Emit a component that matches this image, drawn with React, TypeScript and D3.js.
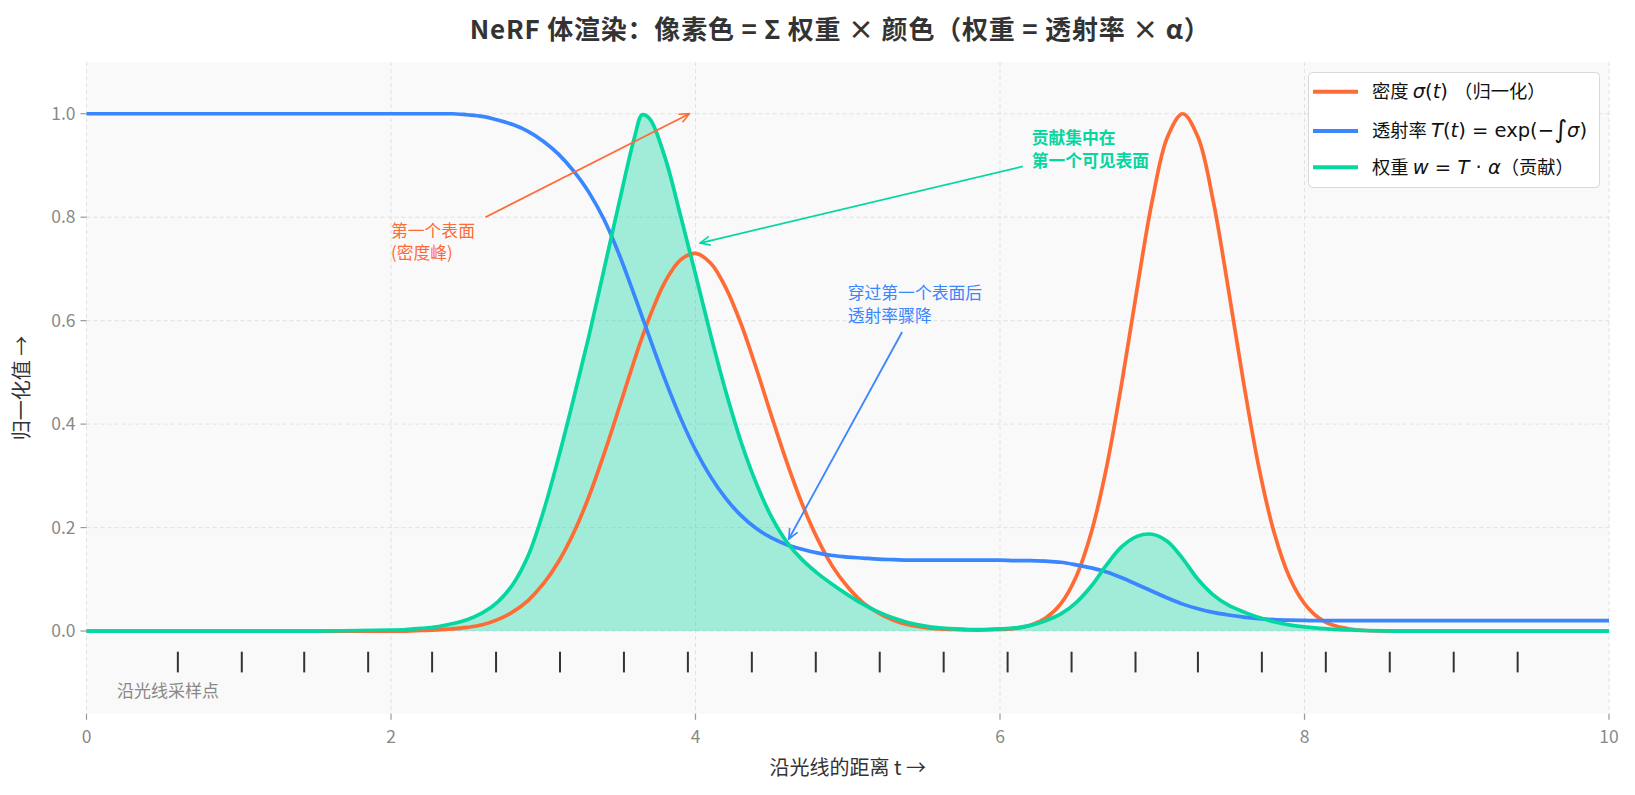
import * as d3 from "d3";

// distance along the ray (shared sample grid for the three curves)
const tGrid = [
  0, 0.5, 1.0, 1.5, 2.0, 2.1, 2.2, 2.3, 2.4, 2.5, 2.6, 2.7, 2.8, 2.9, 3.0, 3.1, 3.2, 3.3, 3.4, 3.5, 3.6, 3.65,
  3.7, 3.8, 3.9, 4.0, 4.1, 4.2, 4.3, 4.4, 4.5, 4.6, 4.7, 4.8, 4.9, 5.0, 5.1, 5.2, 5.3, 5.4, 5.5, 5.6, 5.7,
  5.8, 5.9, 6.0, 6.1, 6.2, 6.3, 6.4, 6.5, 6.6, 6.7, 6.8, 6.9, 7.0, 7.1, 7.2, 7.3, 7.4, 7.5, 7.6, 7.7, 7.8,
  7.9, 8.0, 8.1, 8.2, 8.3, 8.4, 8.6, 8.8, 9.0, 9.5, 10.0,
];

// density sigma(t), normalised
const density = [
  0, 0, 0, 0, 0, 0, 0.001, 0.002, 0.004, 0.007, 0.012, 0.022, 0.037, 0.059, 0.091, 0.134, 0.19, 0.26, 0.343,
  0.433, 0.525, 0.568, 0.608, 0.675, 0.717, 0.73, 0.711, 0.663, 0.593, 0.507, 0.415, 0.326, 0.246, 0.179,
  0.125, 0.085, 0.055, 0.035, 0.021, 0.012, 0.007, 0.004, 0.003, 0.002, 0.002, 0.003, 0.005, 0.011, 0.025,
  0.053, 0.105, 0.191, 0.317, 0.48, 0.661, 0.832, 0.955, 1.0, 0.955, 0.832, 0.661, 0.48, 0.317, 0.191, 0.105,
  0.053, 0.024, 0.01, 0.004, 0.001, 0, 0, 0, 0, 0,
];

// transmittance T(t)
const transmittance = [
  1, 1, 1, 1, 1, 1, 1, 1, 1, 0.998, 0.995, 0.988, 0.979, 0.966, 0.947, 0.922, 0.889, 0.848, 0.795, 0.727,
  0.648, 0.607, 0.566, 0.486, 0.413, 0.35, 0.298, 0.256, 0.223, 0.198, 0.18, 0.167, 0.158, 0.151, 0.146, 0.143,
  0.141, 0.139, 0.138, 0.137, 0.137, 0.137, 0.137, 0.137, 0.137, 0.137, 0.136, 0.136, 0.135, 0.133, 0.128,
  0.122, 0.114, 0.103, 0.09, 0.077, 0.064, 0.052, 0.043, 0.036, 0.031, 0.027, 0.024, 0.022, 0.021, 0.0205,
  0.02, 0.02, 0.02, 0.02, 0.02, 0.02, 0.02, 0.02, 0.02,
];

// weight w = T * alpha, normalised
const weight = [
  0, 0, 0, 0, 0.002, 0.003, 0.005, 0.008, 0.014, 0.022, 0.035, 0.056, 0.09, 0.145, 0.23, 0.335, 0.45, 0.57,
  0.7, 0.83, 0.955, 0.998, 0.99, 0.915, 0.805, 0.69, 0.572, 0.462, 0.365, 0.285, 0.22, 0.172, 0.138, 0.112,
  0.09, 0.07, 0.052, 0.037, 0.025, 0.016, 0.01, 0.006, 0.004, 0.003, 0.003, 0.004, 0.006, 0.011, 0.02,
  0.033, 0.055, 0.087, 0.128, 0.163, 0.183, 0.187, 0.173, 0.14, 0.1, 0.07, 0.05, 0.037, 0.026, 0.018,
  0.012, 0.008, 0.005, 0.003, 0.002, 0.001, 0, 0, 0, 0, 0,
];

const samplePoints = [
  0.6, 1.02, 1.43, 1.85, 2.27, 2.69, 3.11, 3.53, 3.95, 4.37, 4.79, 5.21, 5.63, 6.05, 6.47, 6.89, 7.3, 7.72,
  8.14, 8.56, 8.98, 9.4,
];

const xTicks = [0, 2, 4, 6, 8, 10];
const yTicks = [0, 0.2, 0.4, 0.6, 0.8, 1.0];

const ORANGE = "#ff6b35";
const BLUE = "#3a86ff";
const GREEN = "#06d6a0";
const FONT = "'Noto Sans CJK SC', 'Noto Sans', sans-serif";
const MATH = "'DejaVu Sans', sans-serif";

export default function App() {
  const x = d3.scaleLinear().domain([0, 10]).range([86.5, 1609]);
  const y = d3.scaleLinear().domain([-0.16, 1.1]).range([713.8, 62]);
  const smooth = d3.curveCatmullRom.alpha(0.5);

  const mkLine = (vals: number[], curve: d3.CurveFactory = smooth) =>
    d3
      .line<number>()
      .x((_, i) => x(tGrid[i]))
      .y((d) => y(d))
      .curve(curve)(vals) || "";

  const fill =
    d3
      .area<number>()
      .x((_, i) => x(tGrid[i]))
      .y0(y(0))
      .y1((d) => y(d))
      .curve(smooth)(weight) || "";

  const [x0, x1] = x.range();
  const [yb, yt] = y.range();

  const arrow = (id: string, color: string) => (
    <marker id={id} viewBox="0 0 12 12" refX="11" refY="6" markerWidth="12" markerHeight="12"
      markerUnits="userSpaceOnUse" orient="auto">
      <path d="M1,1.5 L11,6 L1,10.5" fill="none" stroke={color} strokeWidth="1.6" />
    </marker>
  );

  const m = { fontFamily: MATH, fontSize: 19.5 };

  return (
    <div style={{ position: "absolute", left: 0, top: 0 }}>
      <svg width={1635} height={795} style={{ display: "block", background: "#fff" }}>
        <defs>
          {arrow("arO", ORANGE)}
          {arrow("arG", GREEN)}
          {arrow("arB", BLUE)}
        </defs>

        <text x={(x0 + x1) / 2 - 8} y={39} textAnchor="middle" fontFamily={FONT} fontWeight="bold" fontSize={26}
          fill="#333" textLength={740} lengthAdjust="spacing">
          NeRF 体渲染：像素色 = Σ 权重 × 颜色（权重 = 透射率 × α）
        </text>

        <rect x={x0} y={yt} width={x1 - x0} height={yb - yt} fill="#f9f9f9" />

        {xTicks.map((t) => (
          <line key={"gx" + t} x1={x(t)} x2={x(t)} y1={yt} y2={yb} stroke="#dcdcdc" strokeDasharray="4,3" strokeWidth={0.8} />
        ))}
        {yTicks.map((v) => (
          <line key={"gy" + v} x1={x0} x2={x1} y1={y(v)} y2={y(v)} stroke="#dcdcdc" strokeDasharray="4,3" strokeWidth={0.8} />
        ))}

        <path d={fill} fill={GREEN} fillOpacity={0.36} />
        <path d={mkLine(density)} fill="none" stroke={ORANGE} strokeWidth={3.7} />
        <path d={mkLine(transmittance, d3.curveMonotoneX)} fill="none" stroke={BLUE} strokeWidth={3.7} />
        <path d={mkLine(weight)} fill="none" stroke={GREEN} strokeWidth={3.7} />

        {samplePoints.map((t) => (
          <line key={"s" + t} x1={x(t)} x2={x(t)} y1={y(-0.04)} y2={y(-0.08)} stroke="#333" strokeWidth={2} />
        ))}
        <text x={x(0.2)} y={y(-0.116)} dy="0.35em" fontFamily={FONT} fontSize={17} fill="#888">
          沿光线采样点
        </text>

        {/* annotations */}
        <line x1={x(2.62)} y1={y(0.8)} x2={x(3.96)} y2={y(1.0)} stroke={ORANGE} strokeWidth={1.8} markerEnd="url(#arO)" />
        <text fontFamily={FONT} fontSize={16.8} fill={ORANGE}>
          <tspan x={x(2.0)} y={y(0.774)} dy="0.35em">第一个表面</tspan>
          <tspan x={x(2.0)} y={y(0.73)} dy="0.35em">(密度峰)</tspan>
        </text>

        <line x1={x(6.15)} y1={y(0.898)} x2={x(4.03)} y2={y(0.75)} stroke={GREEN} strokeWidth={1.8} markerEnd="url(#arG)" />
        <text fontFamily={FONT} fontSize={16.8} fontWeight="bold" fill={GREEN}>
          <tspan x={x(6.208)} y={y(0.952)} dy="0.35em">贡献集中在</tspan>
          <tspan x={x(6.208)} y={y(0.908)} dy="0.35em">第一个可见表面</tspan>
        </text>

        <line x1={x(5.357)} y1={y(0.578)} x2={x(4.613)} y2={y(0.178)} stroke={BLUE} strokeWidth={1.8} markerEnd="url(#arB)" />
        <text fontFamily={FONT} fontSize={16.8} fill={BLUE}>
          <tspan x={x(5.0)} y={y(0.653)} dy="0.35em">穿过第一个表面后</tspan>
          <tspan x={x(5.0)} y={y(0.609)} dy="0.35em">透射率骤降</tspan>
        </text>

        {/* axes ticks */}
        {xTicks.map((t) => (
          <g key={"tx" + t}>
            <line x1={x(t)} x2={x(t)} y1={yb} y2={yb + 6} stroke="#999" strokeWidth={1.2} />
            <text x={x(t)} y={737} dy="0.35em" textAnchor="middle" fontFamily={FONT} fontSize={17.5} fill="#888">
              {t}
            </text>
          </g>
        ))}
        {yTicks.map((v) => (
          <g key={"ty" + v}>
            <line x1={x0 - 6} x2={x0} y1={y(v)} y2={y(v)} stroke="#999" strokeWidth={1.2} />
            <text x={x0 - 11} y={y(v)} dy="0.35em" textAnchor="end" fontFamily={FONT} fontSize={17.5} fill="#888">
              {v.toFixed(1)}
            </text>
          </g>
        ))}

        <text x={(x0 + x1) / 2} y={768} dy="0.35em" textAnchor="middle" fontFamily={FONT} fontSize={20} fill="#333">
          沿光线的距离 t →
        </text>
        <text transform={`translate(22,${(yt + yb) / 2}) rotate(-90)`} dy="0.35em" textAnchor="middle"
          fontFamily={FONT} fontSize={20} fill="#333">
          归一化值 →
        </text>

        {/* legend */}
        <rect x={1308.5} y={72.5} width={291} height={115} rx={4} fill="#fff" fillOpacity={0.9} stroke="#d8d8d8" />
        <line x1={1313} x2={1358} y1={91.7} y2={91.7} stroke={ORANGE} strokeWidth={4} />
        <line x1={1313} x2={1358} y1={131} y2={131} stroke={BLUE} strokeWidth={4} />
        <line x1={1313} x2={1358} y1={167.3} y2={167.3} stroke={GREEN} strokeWidth={4} />
        <g fontFamily={FONT} fontSize={18.3} fill="#111">
          <text x={1372} y={91.7} dy="0.35em">
            密度 <tspan {...m} fontStyle="italic">σ</tspan>
            <tspan {...m}>(</tspan>
            <tspan {...m} fontStyle="italic">t</tspan>
            <tspan {...m}>) </tspan>（归一化）
          </text>
          <text x={1372} y={131} dy="0.35em">
            透射率 <tspan {...m} fontStyle="italic">T</tspan>
            <tspan {...m}>(</tspan>
            <tspan {...m} fontStyle="italic">t</tspan>
            <tspan {...m}>) = exp(−</tspan>
            <tspan fontFamily={MATH} fontSize={25} dy="1">∫</tspan>
            <tspan {...m} fontStyle="italic" dy="-1">σ</tspan>
            <tspan {...m}>)</tspan>
          </text>
          <text x={1372} y={167.3} dy="0.35em">
            权重 <tspan {...m} fontStyle="italic">w</tspan>
            <tspan {...m}> = </tspan>
            <tspan {...m} fontStyle="italic">T</tspan>
            <tspan {...m}> · </tspan>
            <tspan {...m} fontStyle="italic">α</tspan>（贡献）
          </text>
        </g>
      </svg>
    </div>
  );
}
